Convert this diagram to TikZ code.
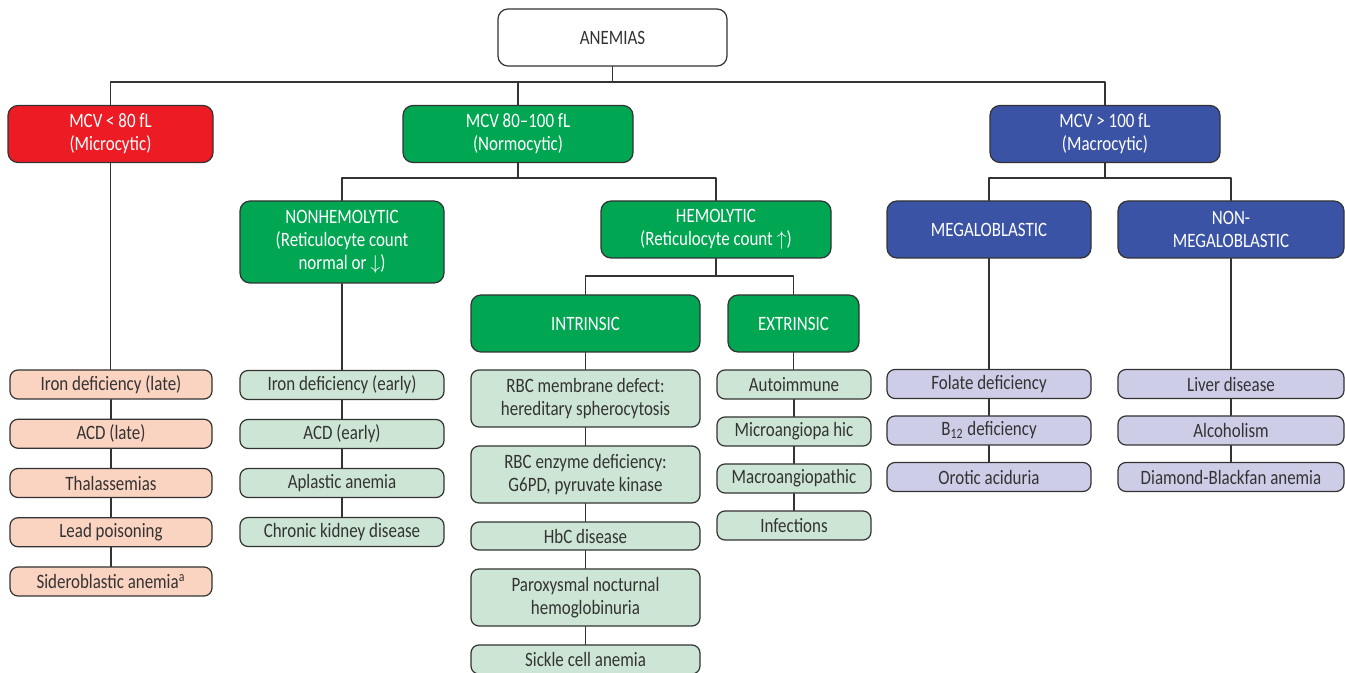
\documentclass[tikz,border=0pt]{standalone}
\usepackage{fontspec}
\setmainfont{Carlito}[FakeStretch=0.83]
\definecolor{cMicro}{HTML}{ED1C24}
\definecolor{cNormo}{HTML}{00A651}
\definecolor{cMacro}{HTML}{3A53A4}
\definecolor{cMicroLeaf}{HTML}{FBD3C1}
\definecolor{cNormoLeaf}{HTML}{CDE5D4}
\definecolor{cMacroLeaf}{HTML}{CECDE8}
\definecolor{cEdge}{HTML}{333333}
\begin{document}
\begin{tikzpicture}[x=0.5pt, y=-0.5pt, font=\fontsize{10.2}{11.6}\selectfont, line join=round, line cap=round,
	bigbox/.style={draw=cEdge, line width=0.6pt, rounded corners=5pt, align=center, text=white, inner sep=1pt, minimum height=28.5pt},
	leaf/.style={draw=cEdge, line width=0.6pt, rounded corners=4pt, align=center, text=cEdge, inner sep=1pt, minimum height=14.5pt},
	microbox/.style={bigbox, fill=cMicro},
	normobox/.style={bigbox, fill=cNormo},
	macrobox/.style={bigbox, fill=cMacro},
	redleaf/.style={leaf, fill=cMicroLeaf, minimum width=101pt},
	greenleaf/.style={leaf, fill=cNormoLeaf},
	blueleaf/.style={leaf, fill=cMacroLeaf},
	link/.style={draw=cEdge, line width=0.6pt}]
	\useasboundingbox (0,0) rectangle (1345,673);
	\coordinate (bar1) at (0,82);
	\coordinate (bar2) at (0,178);
	\coordinate (bar3) at (0,276);
	\node[bigbox, fill=white, text=cEdge, minimum width=114.5pt] (anem) at (612.5,37.5) {ANEMIAS};
	\node[microbox, minimum width=102.5pt] (micro) at (110.5,134) {MCV < 80 fL\\(Microcytic)};
	\node[normobox, minimum width=115pt] (normo) at (518,134) {MCV 80--100 fL\\(Normocytic)};
	\node[macrobox, minimum width=115pt] (macro) at (1105,134) {MCV > 100 fL\\(Macrocytic)};
	\node[normobox, minimum width=102pt, minimum height=41pt] (nonhemo) at (342,242) {NONHEMOLYTIC\\(Reticulocyte count\\normal or $\downarrow$)};
	\node[normobox, minimum width=115pt] (hemo) at (716,229.5) {HEMOLYTIC\\(Reticulocyte count $\uparrow$)};
	\node[normobox, minimum width=114.5pt] (intr) at (585.5,323.5) {INTRINSIC};
	\node[normobox, minimum width=65.5pt] (extr) at (793.5,323.5) {EXTRINSIC};
	\node[macrobox, minimum width=102pt] (mega) at (989,229.5) {MEGALOBLASTIC};
	\node[macrobox, minimum width=113pt] (nonmega) at (1231,229.5) {NON-\\MEGALOBLASTIC};
	\foreach \t [count=\i] in {Iron deficiency (late), ACD (late), Thalassemias, Lead poisoning, Sideroblastic anemia\textsuperscript{a}}
	\node[redleaf] (mi\i) at (111,335.25+49.25*\i) {\t};
	\foreach \t [count=\i] in {Iron deficiency (early), ACD (early), Aplastic anemia, Chronic kidney disease}
	\node[greenleaf, minimum width=102pt] (nh\i) at (342,336+49*\i) {\t};
	\node[greenleaf, minimum width=114.5pt, minimum height=28.5pt] (in1) at (585.5,398.5) {RBC membrane defect:\\hereditary spherocytosis};
	\node[greenleaf, minimum width=114.5pt, minimum height=28.5pt] (in2) at (585.5,474.5) {RBC enzyme deficiency:\\G6PD, pyruvate kinase};
	\node[greenleaf, minimum width=114.5pt, minimum height=14pt] (in3) at (585.5,536) {HbC disease};
	\node[greenleaf, minimum width=114.5pt, minimum height=28.5pt] (in4) at (585.5,597.5) {Paroxysmal nocturnal\\hemoglobinuria};
	\node[greenleaf, minimum width=114.5pt] (in5) at (585.5,659.5) {Sickle cell anemia};
	\foreach \t [count=\i] in {Autoimmune, Microangiopa hic, Macroangiopathic, Infections}
	\node[greenleaf, minimum width=77pt] (ex\i) at (794,337.5+47*\i) {\t};
	\foreach \t [count=\i] in {Folate deficiency, B\textsubscript{12} deficiency, Orotic aciduria}
	\node[blueleaf, minimum width=102pt] (mg\i) at (989,337.5+46.5*\i) {\t};
	\foreach \t [count=\i] in {Liver disease, Alcoholism, Diamond-Blackfan anemia}
	\node[blueleaf, minimum width=113pt] (nm\i) at (1231,337.5+46.5*\i) {\t};
	\draw[link] (anem.south) -- (anem.south |- bar1);
	\draw[link] (micro.north) -- (micro.north |- bar1) -- (macro.north |- bar1) -- (macro.north);
	\draw[link] (normo.north) -- (normo.north |- bar1);
	\draw[link] (normo.south) -- (normo.south |- bar2);
	\draw[link] (nonhemo.north) -- (nonhemo.north |- bar2) -- (hemo.north |- bar2) -- (hemo.north);
	\draw[link] (macro.south) -- (macro.south |- bar2);
	\draw[link] (mega.north) -- (mega.north |- bar2) -- (nonmega.north |- bar2) -- (nonmega.north);
	\draw[link] (hemo.south) -- (hemo.south |- bar3);
	\draw[link] (intr.north) -- (intr.north |- bar3) -- (extr.north |- bar3) -- (extr.north);
	\foreach \a/\b in {micro/mi1, mi1/mi2, mi2/mi3, mi3/mi4, mi4/mi5,
		nonhemo/nh1, nh1/nh2, nh2/nh3, nh3/nh4,
		intr/in1, in1/in2, in2/in3, in3/in4, in4/in5,
		extr/ex1, ex1/ex2, ex2/ex3, ex3/ex4,
		mega/mg1, mg1/mg2, mg2/mg3,
		nonmega/nm1, nm1/nm2, nm2/nm3}
	\draw[link] (\a.south) -- (\a.south |- \b.north);
\end{tikzpicture}
\end{document}
